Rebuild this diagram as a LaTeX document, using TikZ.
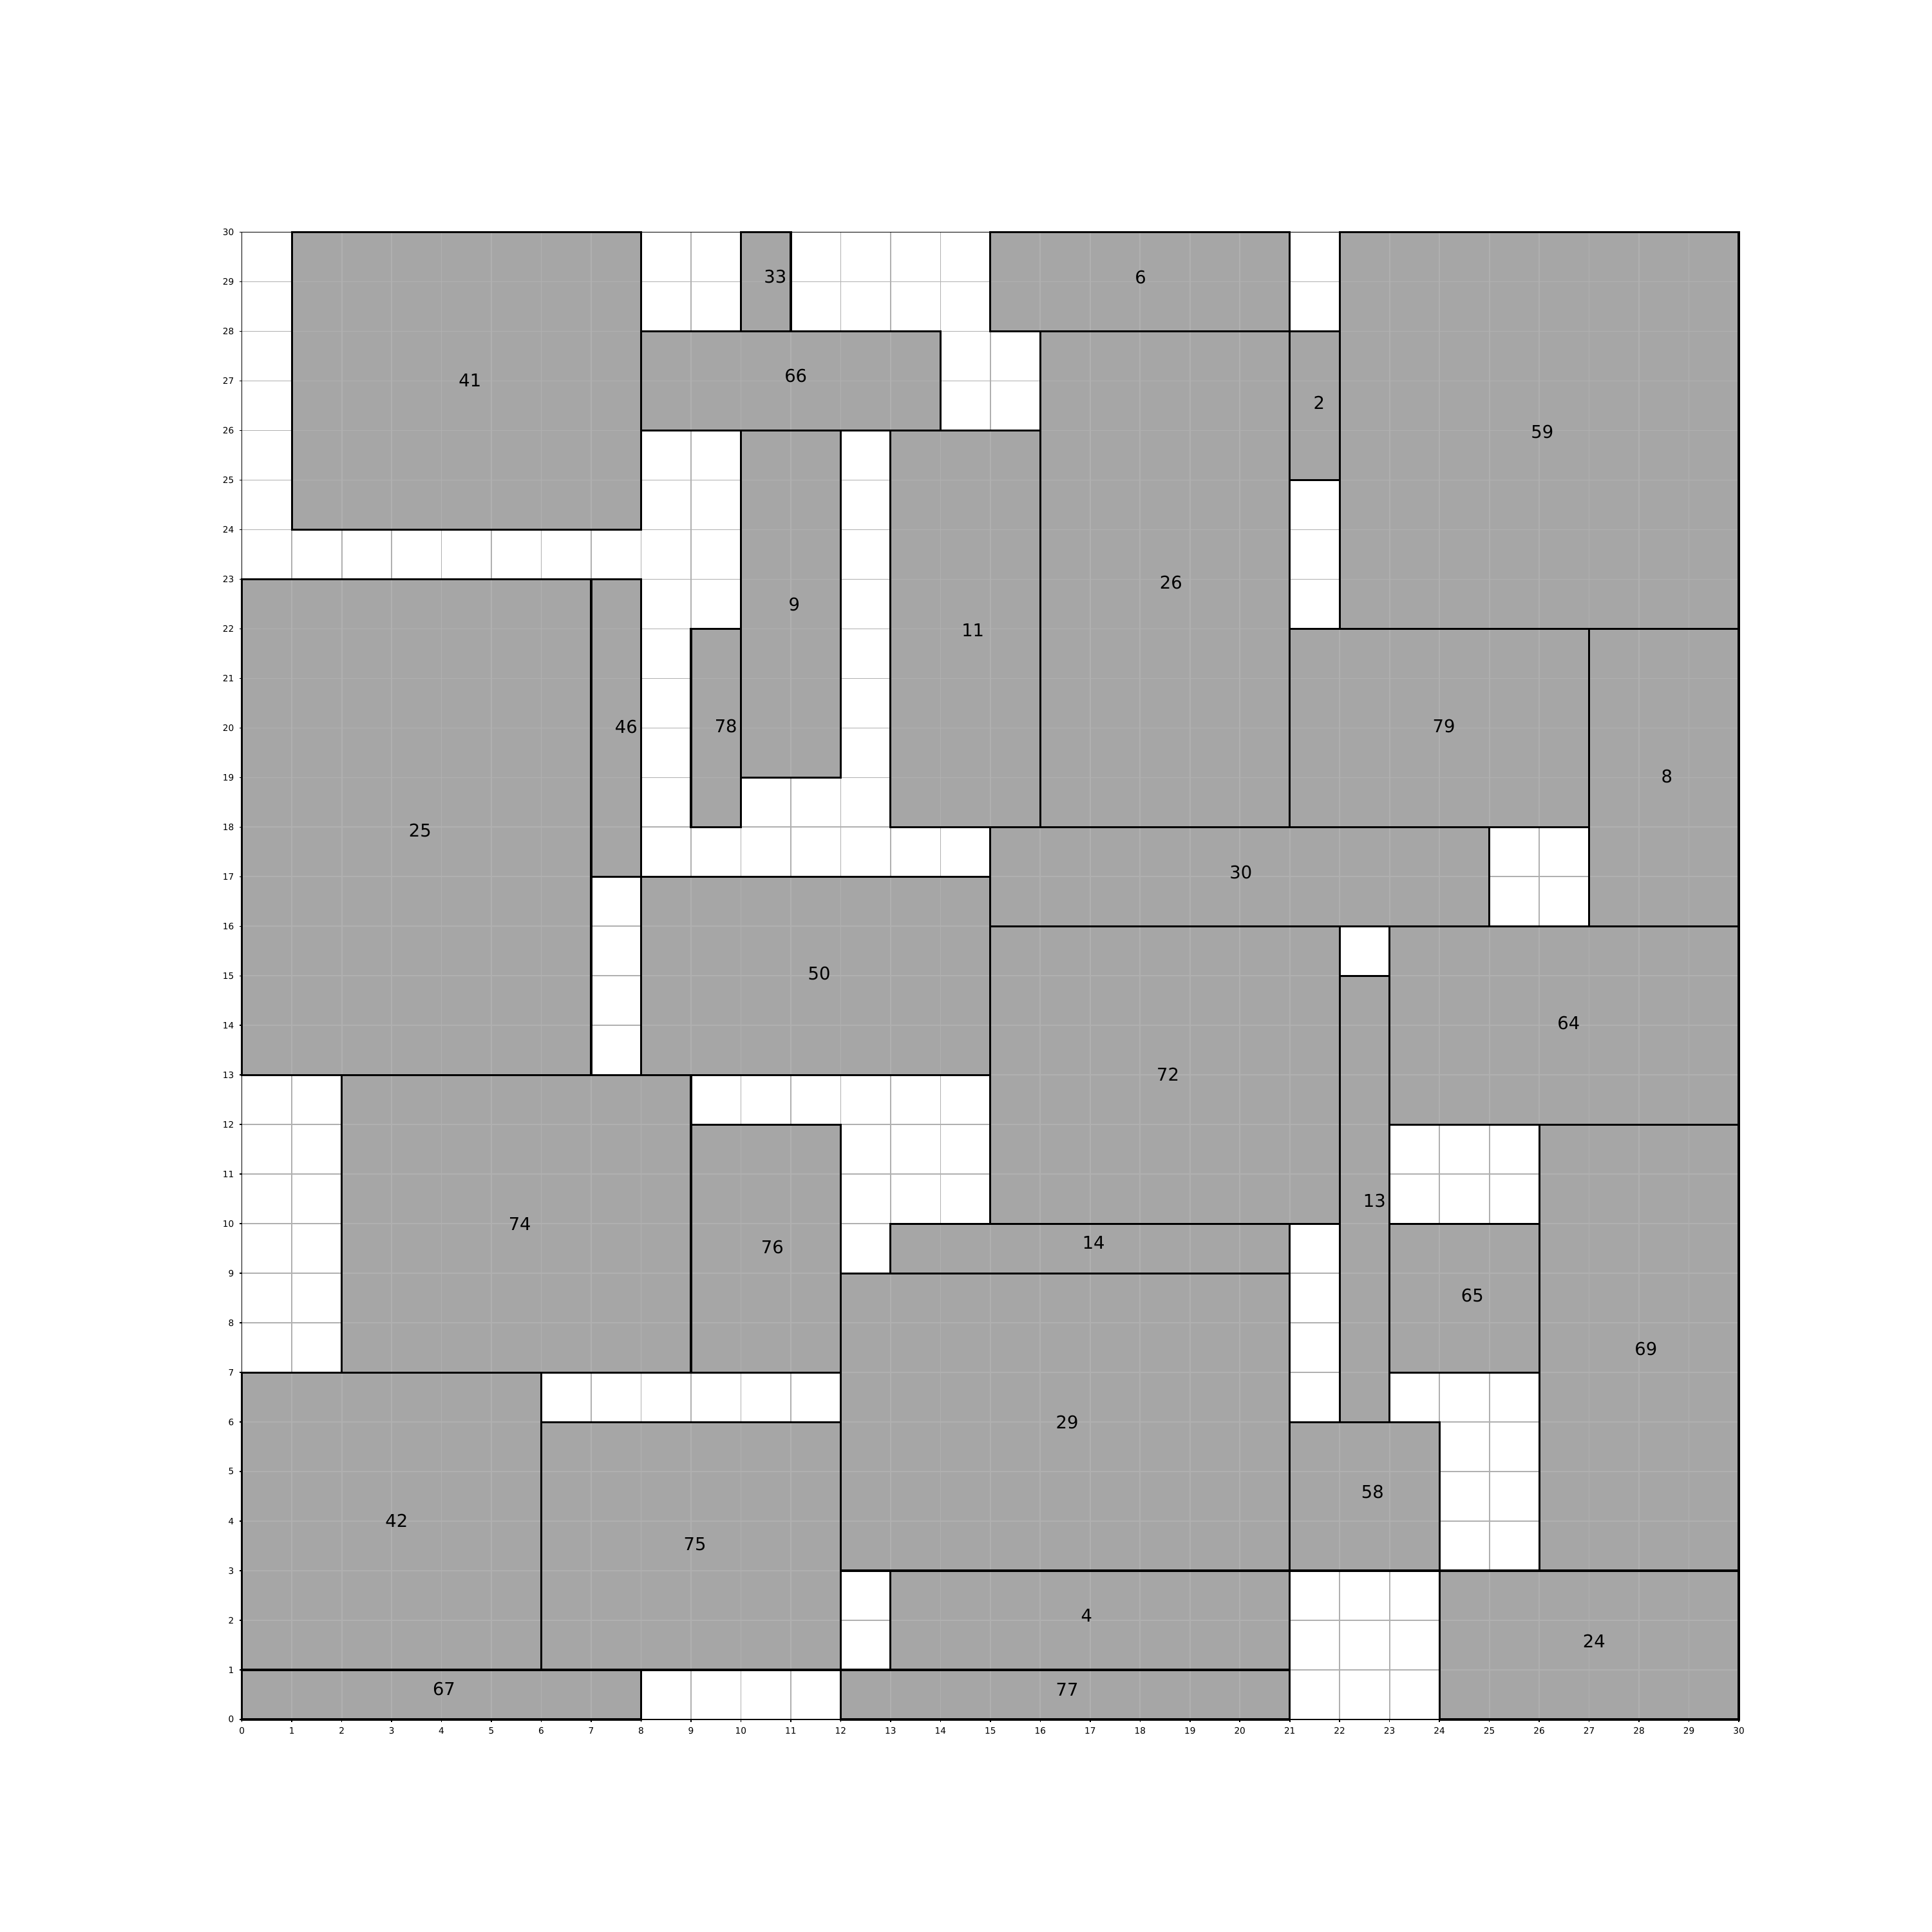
\documentclass[tikz,border=0pt]{standalone}
\usepackage{fontspec}
\setmainfont{DejaVu Sans}
\usepackage{xcolor}
\usetikzlibrary{positioning}
\definecolor{bfill}{HTML}{A6A6A6}
\definecolor{bgrid}{HTML}{B0B0B0}

%% blocks: x0/y0/x1/y1/label x/label y/label
\def\blocklist{1/24/8/30/4.57/27.01/41, 10/28/11/30/10.69/29.10/33,
  15/28/21/30/18.01/29.09/6, 22/22/30/30/26.06/25.98/59,
  8/26/14/28/11.10/27.10/66, 21/25/22/28/21.59/26.56/2,
  10/19/12/26/11.07/22.49/9, 13/18/16/26/14.65/21.97/11,
  16/18/21/28/18.62/22.93/26, 0/13/7/23/3.57/17.93/25,
  7/17/8/23/7.70/20.02/46, 9/18/10/22/9.70/20.04/78,
  21/18/27/22/24.09/20.04/79, 27/16/30/22/28.56/19.03/8,
  15/16/25/18/20.02/17.09/30, 8/13/15/17/11.57/15.05/50,
  15/10/22/16/18.56/13.01/72, 22/6/23/15/22.70/10.46/13,
  23/12/30/16/26.59/14.05/64, 2/7/9/13/5.57/10.00/74,
  9/7/12/12/10.63/9.53/76, 13/9/21/10/17.07/9.62/14,
  23/7/26/10/24.66/8.56/65, 26/3/30/12/28.14/7.47/69,
  12/3/21/9/16.54/6.00/29, 0/1/6/7/3.10/4.01/42,
  6/1/12/6/9.08/3.54/75, 21/3/24/6/22.66/4.59/58,
  13/1/21/3/16.93/2.10/4, 24/0/30/3/27.10/1.58/24,
  0/0/8/1/4.05/0.62/67, 12/0/21/1/16.54/0.61/77}

\tikzset{
  blockedge/.style={draw=black, line width=0.9pt},
  blocklabel/.style={font=\fontsize{7.8}{9}\selectfont, text=black},
  ticklabel/.style={font=\fontsize{3.9}{4.5}\selectfont, inner sep=0pt},
}

\begin{document}
\begin{tikzpicture}[x=0.7748cm, y=0.7698cm]
  \useasboundingbox (-4.849,-4.287) rectangle (33.871,34.685);

  %% Fills
  \foreach \xa/\ya/\xb/\yb/\lx/\ly/\lbl in \blocklist{
    \fill[bfill] (\xa,\ya) rectangle (\xb,\yb);
  }

  %% Grid
  \foreach \i in {1,...,29}{
    \draw[bgrid, line width=0.5pt] (\i,0) -- (\i,30);
    \draw[bgrid, line width=0.5pt] (0,\i) -- (30,\i);
  }

  %% Edges and labels
  \foreach \xa/\ya/\xb/\yb/\lx/\ly/\lbl in \blocklist{
    \draw[blockedge] (\xa,\ya) rectangle (\xb,\yb);
    \node[blocklabel] (b\lbl) at (\lx,\ly) {\lbl};
  }

  %% Frame and ticks
  \draw[black, line width=0.45pt] (0,0) rectangle (30,30);
  \foreach \i in {0,...,30}{
    \draw[black, line width=0.45pt] (\i,0) -- (\i,-0.052);
    \draw[black, line width=0.45pt] (0,\i) -- (-0.052,\i);
    \node[ticklabel, anchor=north] (tx\i) at (\i,-0.15) {\i};
    \node[ticklabel, anchor=east] (ty\i) at (-0.15,\i) {\i};
  }

\end{tikzpicture}
\end{document}
